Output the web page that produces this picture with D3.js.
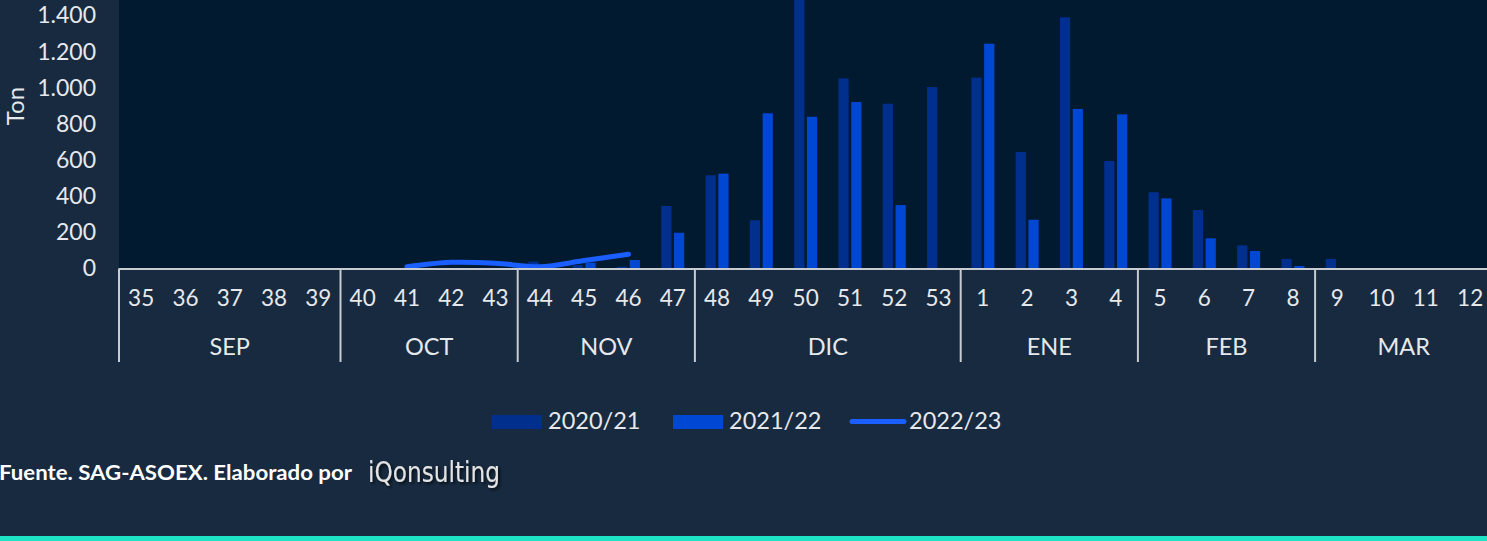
<!DOCTYPE html>
<html>
<head>
<meta charset="utf-8">
<script src="https://cdn.jsdelivr.net/npm/d3@7"></script>
<style>
  html, body { margin: 0; padding: 0; background: #172a40; overflow: hidden; }
  svg { display: block; font-family: Lato, "Open Sans", sans-serif; }
</style>
</head>
<body>
<script>
// weeks of the season, Sep -> Mar
const weeks = ['35','36','37','38','39','40','41','42','43','44','45','46','47','48','49','50','51','52','53',
  '1','2','3','4','5','6','7','8','9','10','11','12'];

const months = [
  { name: 'SEP', from: '35', to: '39' },
  { name: 'OCT', from: '40', to: '43' },
  { name: 'NOV', from: '44', to: '47' },
  { name: 'DIC', from: '48', to: '53' },
  { name: 'ENE', from: '1', to: '4' },
  { name: 'FEB', from: '5', to: '8' },
  { name: 'MAR', from: '9', to: '12' }
];

const seriesNames = ['2020/21', '2021/22', '2022/23'];

// tons per week
const v2021 = [0,0,0,0,0,0,0,0,0,38,19,10,346,516,267,1560,1052,912,1004,
  1056,645,1390,595,422,324,128,53,53,0,0,0];
const v2122 = [0,0,0,0,0,0,0,0,0,0,32,47,198,525,859,840,921,351,0,
  1244,270,883,853,388,167,97,14,0,0,0,0];
// current season only up to week 46
const lineWeeks = ['41','42','43','44','45','46'];
const v2223 = [10,34,29,10,44,79];

const yTicks = [0,200,400,600,800,1000,1200,1400];

const W = 1487, H = 541;
const colors = { dark: '#002f8e', light: '#0047d4', line: '#1a5eff' };
const txt = '#e6e8eb';

const svg = d3.select('body').append('svg')
  .attr('width', W)
  .attr('height', H);

/** x bands */
const x = d3.scaleBand()
  .domain(weeks)
  .range([119, 119 + 44.3 * weeks.length]);

const y = d3.scaleLinear()
  .domain([0, 1600])
  .range([268.5, 268.5 - 8 * 36.14]);

const bw = x.bandwidth();
const x1 = d3.scaleBand()
  .domain(['a', 'b'])
  .range([bw / 2 - 11.5, bw / 2 + 11.5])
  .paddingInner(0.2);

const loc = d3.formatLocale({ decimal: ',', thousands: '.', grouping: [3], currency: ['$', ''] });
const fmt = loc.format(',d');

// backgrounds
svg.append('rect').attr('x', 0).attr('y', 0).attr('width', W).attr('height', H).attr('fill', '#172a40');
svg.append('rect')
  .attr('x', x.range()[0]).attr('y', 0)
  .attr('width', W - x.range()[0]).attr('height', y(0))
  .attr('fill', '#011a30');

// bars
const bars = svg.append('g');
bars.selectAll('rect.a')
  .data(weeks.map((w, i) => ({ w, v: v2021[i] })).filter(d => d.v > 0))
  .enter().append('rect')
  .attr('x', d => x(d.w) + x1('a'))
  .attr('y', d => y(d.v))
  .attr('width', x1.bandwidth())
  .attr('height', d => y(0) - y(d.v))
  .attr('fill', colors.dark);

bars.selectAll('rect.b')
  .data(weeks.map((w, i) => ({ w, v: v2122[i] })).filter(d => d.v > 0))
  .enter().append('rect')
  .attr('x', d => x(d.w) + x1('b'))
  .attr('y', d => y(d.v))
  .attr('width', x1.bandwidth())
  .attr('height', d => y(0) - y(d.v))
  .attr('fill', colors.light);

// line
const line = d3.line()
  .x(d => x(d.w) + bw / 2)
  .y(d => y(d.v))
  .curve(d3.curveCatmullRom.alpha(0.5));

svg.append('path')
  .datum(lineWeeks.map((w, i) => ({ w, v: v2223[i] })))
  .attr('d', line)
  .attr('fill', 'none')
  .attr('stroke', colors.line)
  .attr('stroke-width', 5)
  .attr('stroke-linecap', 'round')
  .attr('stroke-linejoin', 'round');

// y axis labels
const yAxis = svg.append('g')
  .attr('transform', 'translate(96,0)')
  .call(d3.axisLeft(y).tickValues(yTicks).tickFormat(fmt).tickSize(0).tickPadding(0));
yAxis.select('.domain').remove();
yAxis.selectAll('text')
  .attr('fill', txt)
  .attr('font-size', 23)
  .attr('font-family', 'Lato, sans-serif');

svg.append('text')
  .attr('transform', `translate(24,${106}) rotate(-90)`)
  .attr('text-anchor', 'middle')
  .attr('fill', txt)
  .attr('font-size', 24)
  .text('Ton');

// x axis: weeks
const xAxis = svg.append('g')
  .attr('transform', `translate(0,${y(0)})`)
  .call(d3.axisBottom(x).tickSize(0).tickPadding(22));
xAxis.select('.domain').remove();
xAxis.selectAll('text')
  .attr('fill', txt)
  .attr('font-size', 22.5)
  .attr('font-family', 'Lato, sans-serif');

// month separators and labels
const sepX = months.map(m => x(m.from));
svg.append('g').selectAll('line')
  .data(sepX)
  .enter().append('line')
  .attr('x1', d => d).attr('x2', d => d)
  .attr('y1', y(0)).attr('y2', 362)
  .attr('stroke', '#c8cbcf')
  .attr('stroke-width', 2);

svg.append('g').selectAll('text')
  .data(months)
  .enter().append('text')
  .attr('x', d => (x(d.from) + x(d.to) + bw) / 2)
  .attr('y', 355)
  .attr('text-anchor', 'middle')
  .attr('fill', txt)
  .attr('font-size', 23.5)
  .text(d => d.name);

svg.append('line')
  .attr('x1', x.range()[0]).attr('x2', W)
  .attr('y1', y(0) + 0.5).attr('y2', y(0) + 0.5)
  .attr('stroke', '#c8cbcf')
  .attr('stroke-width', 2);

// legend
const legend = svg.append('g');
const legX = [492, 673, 850];
legend.append('rect').attr('x', legX[0]).attr('y', 415).attr('width', 50).attr('height', 14).attr('fill', colors.dark);
legend.append('rect').attr('x', legX[1]).attr('y', 415).attr('width', 50).attr('height', 14).attr('fill', colors.light);
legend.append('line')
  .attr('x1', legX[2] + 2).attr('x2', legX[2] + 54)
  .attr('y1', 421.5).attr('y2', 421.5)
  .attr('stroke', colors.line).attr('stroke-width', 5).attr('stroke-linecap', 'round');
legend.selectAll('text')
  .data(seriesNames)
  .enter().append('text')
  .attr('x', (d, i) => [548, 729, 909][i])
  .attr('y', 429)
  .attr('fill', txt)
  .attr('font-size', 23.5)
  .text(d => d);

// footnote
svg.append('text')
  .attr('x', -1)
  .attr('y', 480)
  .attr('fill', '#ffffff')
  .attr('font-size', 20.5)
  .attr('font-weight', 700)
  .attr('textLength', 353)
  .attr('lengthAdjust', 'spacingAndGlyphs')
  .text('Fuente. SAG-ASOEX. Elaborado por');

const defs = svg.append('defs');
const shadow = defs.append('filter').attr('id', 'sh').attr('x', '-10%').attr('y', '-30%').attr('width', '130%').attr('height', '160%');
shadow.append('feDropShadow').attr('dx', 2).attr('dy', 2).attr('stdDeviation', 1.5).attr('flood-color', '#000').attr('flood-opacity', 0.7);

svg.append('text')
  .attr('x', 368)
  .attr('y', 482)
  .attr('fill', '#e4e4e4')
  .attr('font-size', 28)
  .attr('font-family', '"DejaVu Sans Condensed", "DejaVu Sans", sans-serif')
  .attr('textLength', 132)
  .attr('lengthAdjust', 'spacingAndGlyphs')
  .attr('filter', 'url(#sh)')
  .text('iQonsulting');

// bottom accent
svg.append('rect')
  .attr('x', 0).attr('y', 536)
  .attr('width', W).attr('height', 5)
  .attr('fill', '#1ee3c4');
</script>
</body>
</html>
